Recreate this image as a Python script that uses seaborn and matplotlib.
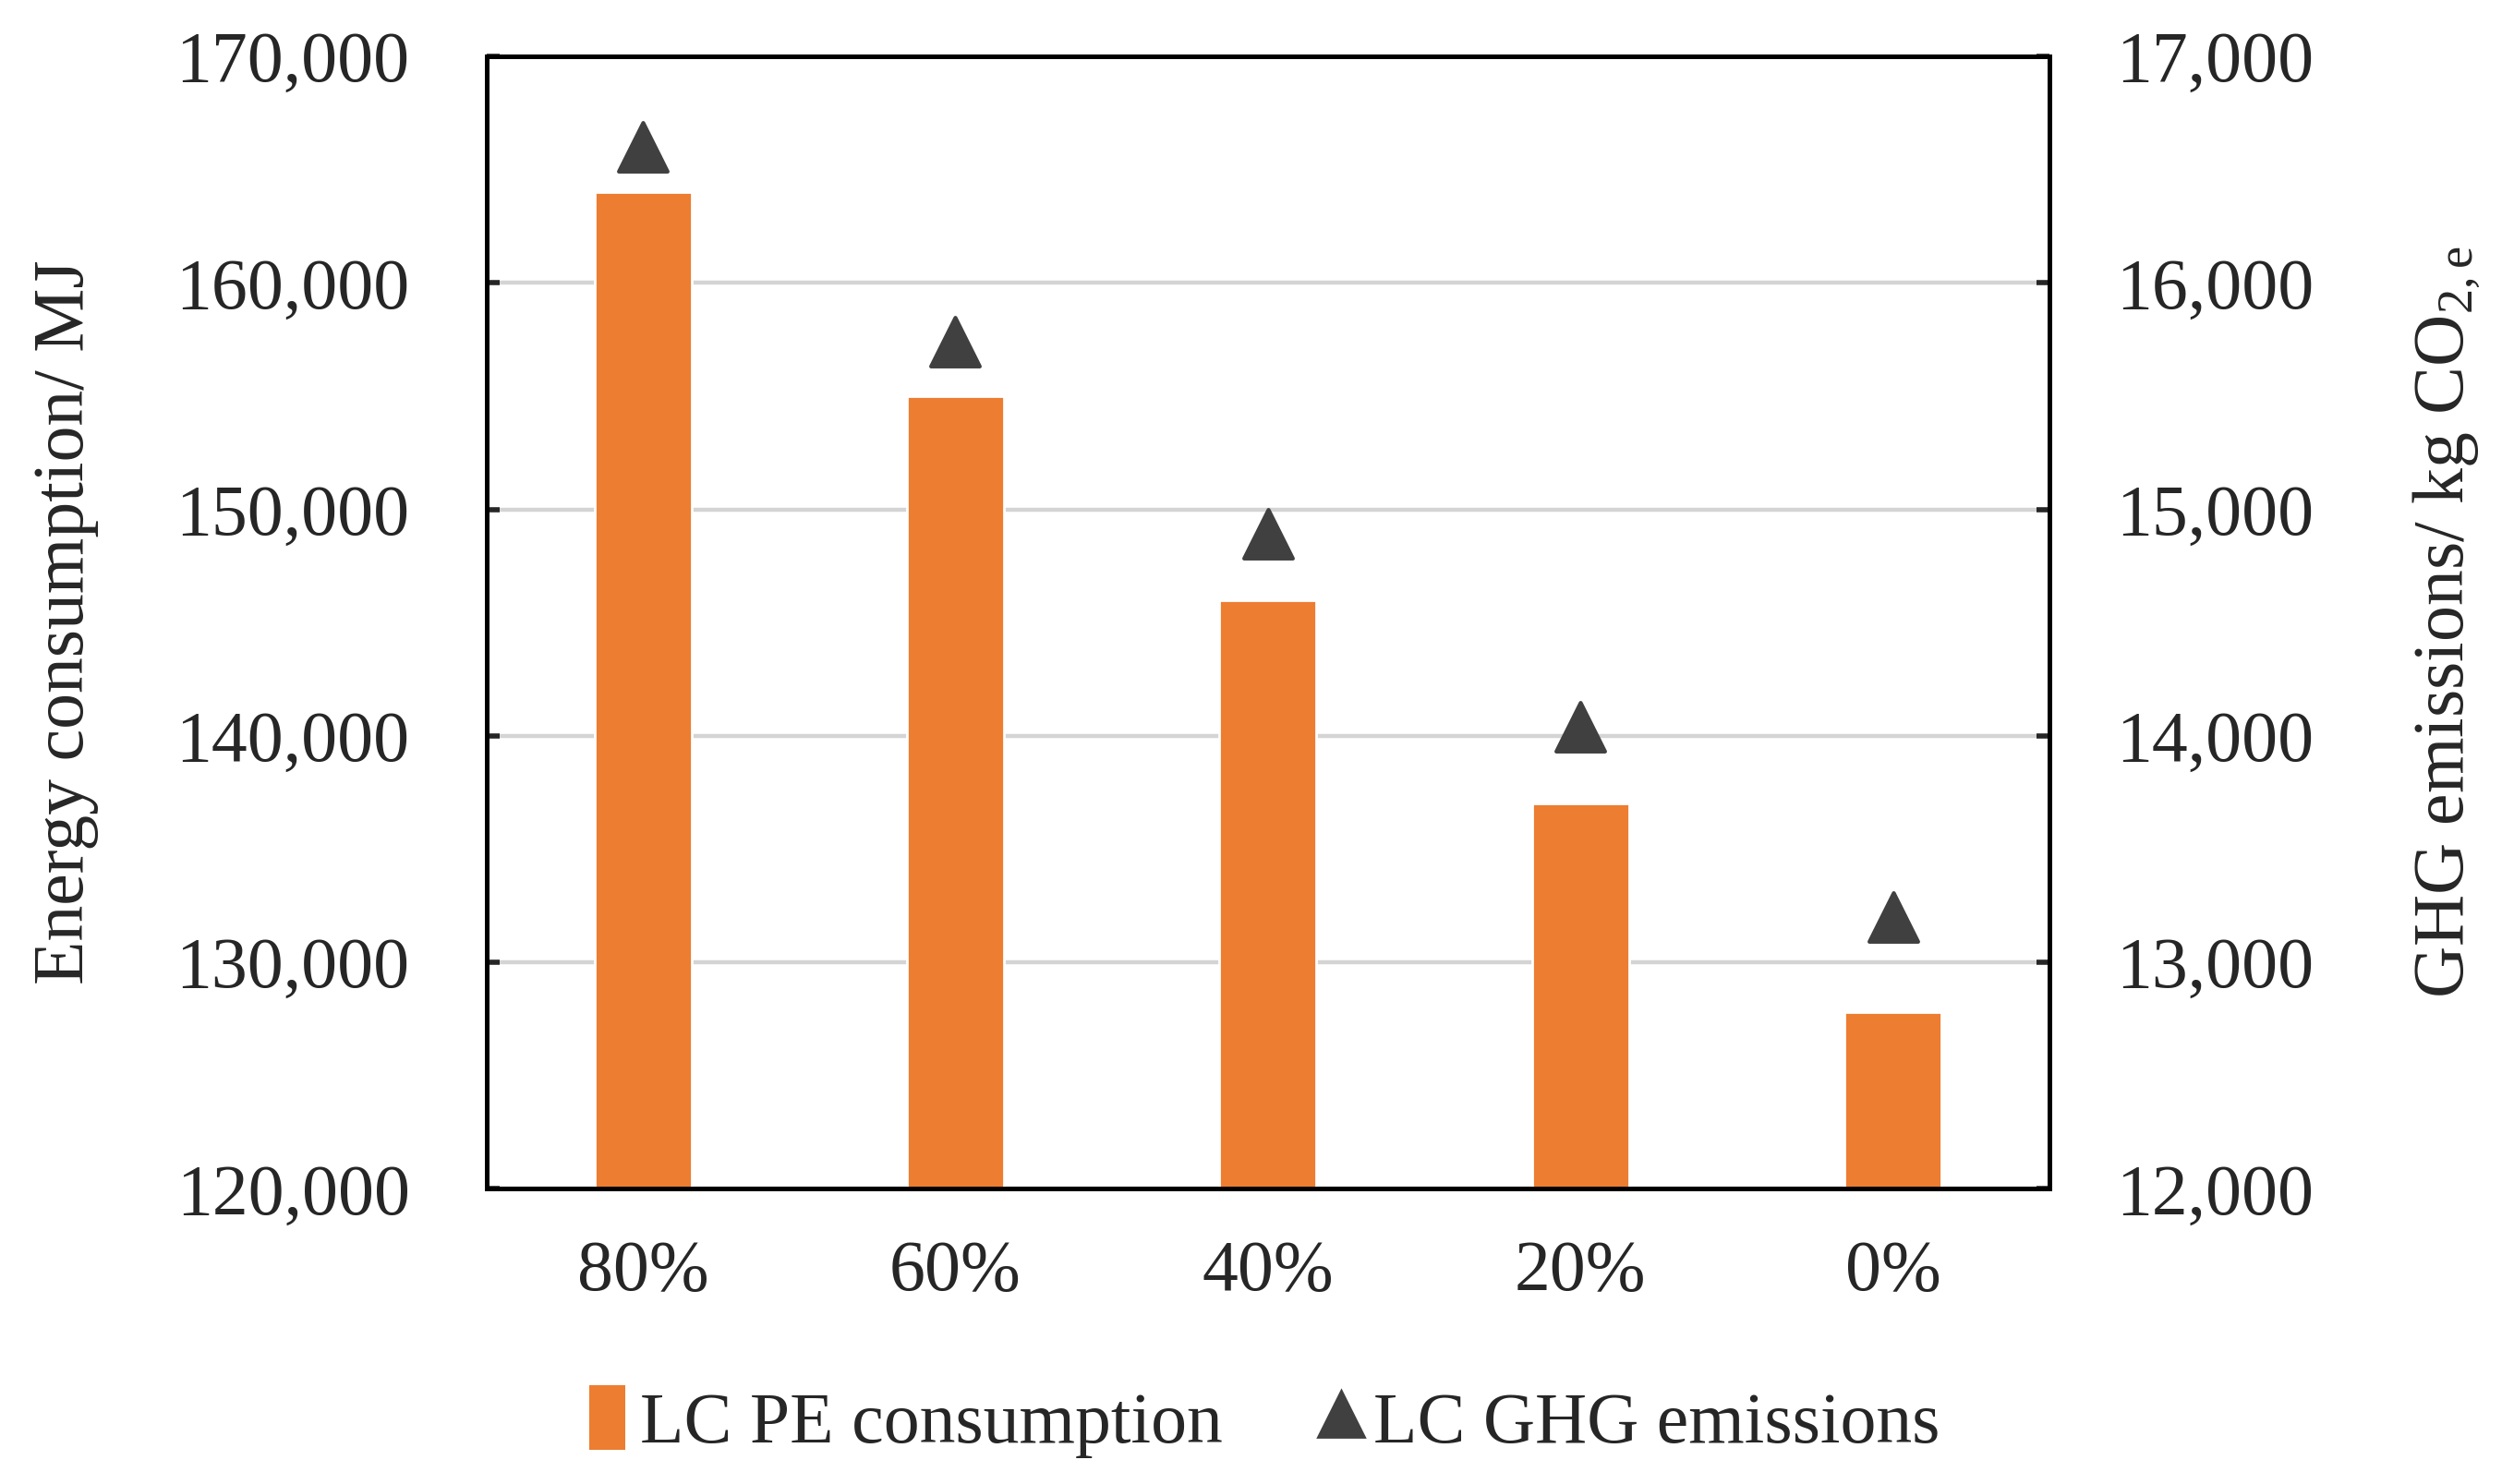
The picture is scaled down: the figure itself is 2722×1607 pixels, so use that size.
import matplotlib
matplotlib.use("Agg")
import matplotlib.pyplot as plt
import seaborn as sns
import pandas as pd
from matplotlib.ticker import FuncFormatter, MultipleLocator
from matplotlib.patches import Patch
from matplotlib.lines import Line2D

# data
shares = ["80%", "60%", "40%", "20%", "0%"]
pe_consumption = [164000, 155000, 146000, 137000, 127800]   # MJ
ghg_emissions = [16600, 15740, 14890, 14040, 13200]          # kg CO2,e

BAR_COLOR = "#ED7D31"
MARK_COLOR = "#404040"
FS = 28

sns.set_style("white")
plt.rcParams["font.family"] = "serif"
plt.rcParams["font.serif"] = ["Liberation Serif", "Times New Roman", "DejaVu Serif"]
plt.rcParams["mathtext.fontset"] = "custom"
plt.rcParams["mathtext.rm"] = "Liberation Serif"
plt.rcParams["mathtext.it"] = "Liberation Serif:italic"

df = pd.DataFrame({"share": shares, "pe": pe_consumption, "ghg": ghg_emissions})

fig = plt.figure(figsize=(13.61, 8.035), dpi=200)
ax = fig.add_axes([0.1936, 0.199, 0.6215, 0.763])

sns.barplot(data=df, x="share", y="pe", color=BAR_COLOR, width=0.31,
            saturation=1, ax=ax, zorder=2)
ax.set_ylim(120000, 170000)
ax.set_xlim(-0.5, 4.5)
ax.yaxis.set_major_locator(MultipleLocator(10000))
ax.yaxis.set_major_formatter(FuncFormatter(lambda v, p: f"{int(v):,}"))
ax.grid(axis="y", color="#d4d4d4", linewidth=1.6, zorder=0)
ax.set_axisbelow(True)
ax.set_xlabel("")
ax.set_ylabel("Energy consumption/ MJ", fontsize=FS, labelpad=30)
ax.tick_params(axis="y", direction="in", length=5, width=2, pad=30, labelsize=FS)
ax.tick_params(axis="x", length=0, pad=20, labelsize=FS)
for s in ax.spines.values():
    s.set_linewidth(1.8)
    s.set_color("black")

ax2 = ax.twinx()
sns.scatterplot(data=df, x="share", y="ghg", marker="^", s=360, color=MARK_COLOR,
                edgecolor=MARK_COLOR, ax=ax2, zorder=3, legend=False)
ax2.set_ylim(12000, 17000)
ax2.yaxis.set_major_locator(MultipleLocator(1000))
ax2.yaxis.set_major_formatter(FuncFormatter(lambda v, p: f"{int(v):,}"))
ax2.set_ylabel(r"GHG emissions/ kg CO$_{2,\mathrm{e}}$", fontsize=FS, labelpad=38)
ax2.tick_params(axis="y", direction="in", length=5, width=2, pad=26, labelsize=FS)
for s in ax2.spines.values():
    s.set_linewidth(1.8)
    s.set_color("black")

handles = [
    Patch(facecolor=BAR_COLOR, edgecolor="none", label="LC PE consumption"),
    Line2D([0], [0], marker="^", color="none", markerfacecolor=MARK_COLOR,
           markeredgecolor=MARK_COLOR, markersize=18, label="LC GHG emissions"),
]
fig.legend(handles=handles, loc="center", bbox_to_anchor=(0.503, 0.042), ncol=2,
           frameon=False, fontsize=FS, handlelength=0.5, handletextpad=0.2,
           columnspacing=1.4, handleheight=1.0)

fig.savefig("out.png", dpi=200)
plt.close(fig)
